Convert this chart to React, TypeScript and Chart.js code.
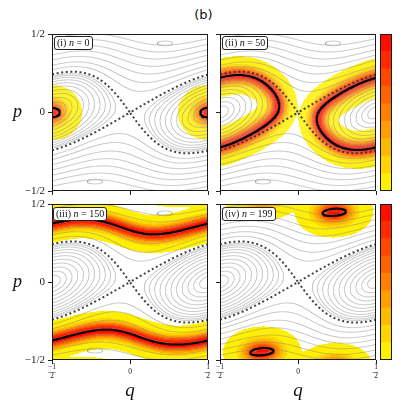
import React, { useEffect, useRef } from 'react';
import { Chart, registerables } from 'chart.js';

Chart.register(...registerables);

type Pt = [number, number];

// ================= values =================
const FIGURE_TITLE = '(b)';
const PANEL_TAGS = ['(i)', '(ii)', '(iii)', '(iv)'];
const PANEL_STEPS = [0, 50, 150, 199];
const AXIS_TICKS = [-0.5, 0, 0.5];
const Y_TICK_LABELS = ['−1/2', '0', '1/2'];
const X_TICK_LABELS = [['−1', '—', '2'], ['0'], ['1', '—', '2']];
const X_TITLE = 'q';
const Y_TITLE = 'p';

// filled distribution: 9 colour bands (low -> high), autumn_r
const LEVEL_COLORS = ['#ffef00', '#ffd400', '#ffb800', '#ff9c00', '#ff8000', '#ff6300', '#ff4700', '#ff2b00', '#ff0e00'];
const LOWEST_LEVEL = 0.003; // fraction of the panel maximum where the yellow band starts

// gray level curves of the classical phase portrait
const SEPARATRIX_PEAK_P = 0.26; // highest point of the dotted separatrix
const SEPARATRIX_SHEAR = 0.5; // tilt of the separatrix lobes
const LIBRATION_CROSSINGS_Q = [0.1, 0.135, 0.17, 0.205, 0.24, 0.275, 0.31, 0.345, 0.38, 0.415, 0.45]; // closed curves, crossing p = 0
const ROTATION_CROSSINGS_P = [0.272, 0.3, 0.333, 0.366, 0.4, 0.435, 0.47]; // open curves, crossing q = -1/2
const GRAY_ISLAND_Q = [0.224, -0.224];
const GRAY_ISLAND_P = [0.44, -0.44];
const GRAY_ISLAND_RQ = [0.05, 0.05];
const GRAY_ISLAND_RP = [0.015, 0.015];

// (i) n = 0 : initial loop and its spread
const START_Q = [0.5];
const START_P = [0];
const START_RQ = [0.05];
const START_RP = [0.03];
const START_SPREAD = [0.08, 0.072];

// (ii) n = 50 : loop tip on p = 0
const LOOP_TIP = [0.13, 0];
// (iii) n = 150 : lowest point of the upper curve
const BAND_DIP = [0.171, 0.306];
// (iv) n = 199 : two small loops
const FINAL_Q = [0.232, -0.232];
const FINAL_P = [0.447, -0.447];
const FINAL_RQ = [0.075, 0.075];
const FINAL_RP = [0.023, 0.023];
const FINAL_TILT = [0.08, 0.08];
const FINAL_SPREAD = [0.085, 0.062];

const CURVE_SPREAD = [0.05, 0.05];

// ================= model / geometry helpers =================
const K = (SEPARATRIX_PEAK_P * SEPARATRIX_PEAK_P) / 4;
function H(q: number, p: number) {
  return (p * p) / 2 + K * Math.cos(2 * Math.PI * (q - SEPARATRIX_SHEAR * p));
}

const GRID = 240;
const HEAT_N = 156;

function contour(v: Float64Array, N: number, L: number): Pt[][] {
  const M = N + 1;
  const pts = new Map<number, Pt>();
  const adj = new Map<number, number[]>();
  const segs: [number, number][] = [];
  const val = (i: number, j: number) => v[j * M + i];
  const hKey = (i: number, j: number) => (j * M + i) * 2;
  const vKey = (i: number, j: number) => (j * M + i) * 2 + 1;
  const point = (key: number): Pt => {
    const node = key >> 1;
    const i = node % M;
    const j = (node - i) / M;
    if ((key & 1) === 0) {
      const a = val(i, j), b = val(i + 1, j);
      const t = (L - a) / (b - a);
      return [-0.5 + (i + t) / N, -0.5 + j / N];
    }
    const a = val(i, j), b = val(i, j + 1);
    const t = (L - a) / (b - a);
    return [-0.5 + i / N, -0.5 + (j + t) / N];
  };
  const add = (k1: number, k2: number) => {
    if (!pts.has(k1)) pts.set(k1, point(k1));
    if (!pts.has(k2)) pts.set(k2, point(k2));
    const id = segs.length;
    segs.push([k1, k2]);
    if (!adj.has(k1)) adj.set(k1, []);
    if (!adj.has(k2)) adj.set(k2, []);
    adj.get(k1)!.push(id);
    adj.get(k2)!.push(id);
  };
  for (let j = 0; j < N; j++) {
    for (let i = 0; i < N; i++) {
      const v0 = val(i, j), v1 = val(i + 1, j), v2 = val(i + 1, j + 1), v3 = val(i, j + 1);
      const a0 = v0 > L, a1 = v1 > L, a2 = v2 > L, a3 = v3 > L;
      const e0 = hKey(i, j), e1 = vKey(i + 1, j), e2 = hKey(i, j + 1), e3 = vKey(i, j);
      const cross: number[] = [];
      if (a0 !== a1) cross.push(e0);
      if (a1 !== a2) cross.push(e1);
      if (a2 !== a3) cross.push(e2);
      if (a3 !== a0) cross.push(e3);
      if (cross.length === 2) add(cross[0], cross[1]);
      else if (cross.length === 4) {
        const ac = (v0 + v1 + v2 + v3) / 4 > L;
        if (a0 !== ac) add(e3, e0);
        if (a1 !== ac) add(e0, e1);
        if (a2 !== ac) add(e1, e2);
        if (a3 !== ac) add(e2, e3);
      }
    }
  }
  const used = new Uint8Array(segs.length);
  const lines: Pt[][] = [];
  const walk = (start: number) => {
    const line: Pt[] = [pts.get(start)!];
    let cur = start;
    for (;;) {
      const list = adj.get(cur)!;
      let next = -1;
      for (const id of list) if (!used[id]) { next = id; break; }
      if (next < 0) break;
      used[next] = 1;
      const [a, b] = segs[next];
      cur = a === cur ? b : a;
      line.push(pts.get(cur)!);
    }
    if (line.length > 1) lines.push(line);
  };
  adj.forEach((list, key) => { if (list.length === 1) walk(key); });
  adj.forEach((list, key) => { if (list.some((id) => !used[id])) walk(key); });
  return lines;
}

function ellipse(qc: number, pc: number, rq: number, rp: number, tilt: number, n = 160): Pt[] {
  const out: Pt[] = [];
  for (let k = 0; k <= n; k++) {
    const t = (2 * Math.PI * k) / n;
    const a = rq * Math.cos(t), b = rp * Math.sin(t);
    out.push([qc + a * Math.cos(tilt) - b * Math.sin(tilt), pc + a * Math.sin(tilt) + b * Math.cos(tilt)]);
  }
  return out;
}

function wrapCopies(lines: Pt[][]): Pt[][] {
  const out: Pt[][] = [];
  for (const l of lines) {
    for (const sq of [-1, 0, 1]) for (const sp of [-1, 0, 1]) {
      const c = l.map(([x, y]) => [x + sq, y + sp] as Pt);
      const inside = c.some(([x, y]) => x >= -0.52 && x <= 0.52 && y >= -0.52 && y <= 0.52);
      if (inside) out.push(c);
    }
  }
  return out;
}

function resample(lines: Pt[][], step: number): Pt[] {
  const out: Pt[] = [];
  for (const l of lines) {
    if (l.length < 2) continue;
    out.push(l[0]);
    let acc = 0;
    for (let k = 1; k < l.length; k++) {
      const [x0, y0] = l[k - 1], [x1, y1] = l[k];
      const len = Math.hypot(x1 - x0, y1 - y0);
      if (len === 0) continue;
      let s = step - acc;
      while (s <= len) {
        const t = s / len;
        out.push([x0 + t * (x1 - x0), y0 + t * (y1 - y0)]);
        s += step;
      }
      acc = len - (s - step);
    }
  }
  return out;
}

function density(src: Pt[], sq: number, sp: number, N: number, w?: number[]): Float64Array {
  const d = new Float64Array(N * N);
  const Rq = Math.ceil(3.6 * sq * N), Rp = Math.ceil(3.6 * sp * N);
  src.forEach(([qs, ps], k) => {
    const wk = w ? w[k] : 1;
    const ic = (qs + 0.5) * N - 0.5, jc = (ps + 0.5) * N - 0.5;
    for (let j = Math.floor(jc) - Rp; j <= Math.ceil(jc) + Rp; j++) {
      const dp = (j - jc) / N;
      const ep = (dp * dp) / (sp * sp);
      if (ep > 13) continue;
      const jj = ((j % N) + N) % N;
      for (let i = Math.floor(ic) - Rq; i <= Math.ceil(ic) + Rq; i++) {
        const dq = (i - ic) / N;
        const e = ep + (dq * dq) / (sq * sq);
        if (e > 13) continue;
        d[jj * N + (((i % N) + N) % N)] += wk * Math.exp(-e);
      }
    }
  });
  return d;
}

// density along a curve with an even ridge (each source weighted by the inverse local overlap)
function ridgeDensity(src: Pt[], sq: number, sp: number, N: number): Float64Array {
  const d0 = density(src, sq, sp, N);
  const w = src.map(([q, p]) => {
    const i = Math.min(N - 1, Math.max(0, Math.floor((q + 0.5) * N)));
    const j = Math.min(N - 1, Math.max(0, Math.floor((p + 0.5) * N)));
    return 1 / Math.max(1e-9, d0[j * N + i]);
  });
  return density(src, sq, sp, N, w);
}

function bands(d: Float64Array, N: number) {
  let mx = 0;
  for (let k = 0; k < d.length; k++) if (d[k] > mx) mx = d[k];
  const out: { x: number; y: number }[][] = LEVEL_COLORS.map(() => []);
  for (let j = 0; j < N; j++) for (let i = 0; i < N; i++) {
    const v = d[j * N + i] / mx;
    if (v < LOWEST_LEVEL) continue;
    const b = Math.min(LEVEL_COLORS.length - 1, Math.floor(v * LEVEL_COLORS.length));
    out[b].push({ x: -0.5 + (i + 0.5) / N, y: -0.5 + (j + 0.5) / N });
  }
  return out;
}

let MODEL: any = null;
function buildModel() {
  if (MODEL) return MODEL;
  const M = GRID + 1;
  const v = new Float64Array(M * M);
  for (let j = 0; j < M; j++) for (let i = 0; i < M; i++) v[j * M + i] = H(-0.5 + i / GRID, -0.5 + j / GRID);

  const gray: Pt[][] = [];
  LIBRATION_CROSSINGS_Q.forEach((q) => gray.push(...contour(v, GRID, H(q, 0))));
  ROTATION_CROSSINGS_P.forEach((p) => gray.push(...contour(v, GRID, H(-0.5, p))));
  GRAY_ISLAND_Q.forEach((q, k) => gray.push(ellipse(q, GRAY_ISLAND_P[k], GRAY_ISLAND_RQ[k], GRAY_ISLAND_RP[k], 0)));
  const sep = contour(v, GRID, H(0, 0) * (1 - 1e-9));

  const startLoops = START_Q.map((q, k) => ellipse(q, START_P[k], START_RQ[k], START_RP[k], 0));
  const loop50 = contour(v, GRID, H(LOOP_TIP[0], LOOP_TIP[1]));
  const band150 = contour(v, GRID, H(BAND_DIP[0], BAND_DIP[1]));
  const finalLoops = FINAL_Q.map((q, k) => ellipse(q, FINAL_P[k], FINAL_RQ[k], FINAL_RP[k], FINAL_TILT[k]));

  const black = [wrapCopies(startLoops), loop50, band150, wrapCopies(finalLoops)];
  const heat = [
    bands(density(START_Q.map((q, k) => [q, START_P[k]] as Pt), START_SPREAD[0], START_SPREAD[1], HEAT_N), HEAT_N),
    bands(ridgeDensity(resample(loop50, 0.004), CURVE_SPREAD[0], CURVE_SPREAD[1], HEAT_N), HEAT_N),
    bands(ridgeDensity(resample(band150, 0.004), CURVE_SPREAD[0], CURVE_SPREAD[1], HEAT_N), HEAT_N),
    bands(density(resample(finalLoops, 0.004), FINAL_SPREAD[0], FINAL_SPREAD[1], HEAT_N), HEAT_N),
  ];
  MODEL = { gray, sep, black, heat };
  return MODEL;
}

function toData(lines: Pt[][]) {
  const out: { x: number; y: number }[] = [];
  lines.forEach((l, k) => {
    if (k) out.push({ x: NaN, y: NaN });
    l.forEach(([x, y]) => out.push({ x, y }));
  });
  return out;
}

const framePlugin = {
  id: 'frame',
  afterDatasetsDraw(chart: any) {
    const { ctx, chartArea: a } = chart;
    ctx.save();
    ctx.strokeStyle = '#1a1a1a';
    ctx.lineWidth = 1;
    ctx.strokeRect(a.left + 0.5, a.top + 0.5, a.right - a.left - 1, a.bottom - a.top - 1);
    ctx.restore();
  },
};

const SERIF = '"Liberation Serif", "DejaVu Serif", serif';

function fixedFit(size: number, horizontal: boolean) {
  return (s: any) => {
    if (horizontal) s.height = size; else s.width = size;
    s.paddingTop = 0;
    s.paddingBottom = 0;
    s.paddingLeft = 0;
    s.paddingRight = 0;
  };
}

function panelConfig(k: number, model: any): any {
  const leftCol = k % 2 === 0;
  const bottomRow = k >= 2;
  const datasets: any[] = [
    { label: 'orbit', data: toData(model.black[k]), showLine: true, borderColor: '#000', borderWidth: 2, pointRadius: 0, pointHitRadius: 0, spanGaps: false, order: 0 },
    { label: 'separatrix', data: toData(model.sep), showLine: true, borderColor: 'rgba(55,55,55,0.95)', borderWidth: 2, borderDash: [2, 2.6], pointRadius: 0, pointHitRadius: 0, spanGaps: false, order: 1 },
    { label: 'level curves', data: toData(model.gray), showLine: true, borderColor: 'rgba(140,140,140,0.47)', borderWidth: 1, pointRadius: 0, pointHitRadius: 0, spanGaps: false, order: 2 },
  ];
  model.heat[k].forEach((pts: any[], b: number) =>
    datasets.push({ label: 'band ' + (b + 1), data: pts, showLine: false, pointStyle: 'rect', pointRadius: 0.8, pointHoverRadius: 0.8, pointBorderWidth: 0, borderWidth: 0, backgroundColor: LEVEL_COLORS[b], pointBackgroundColor: LEVEL_COLORS[b], order: 3 })
  );
  return {
    type: 'scatter',
    data: { datasets },
    plugins: [framePlugin],
    options: {
      responsive: false,
      animation: false,
      devicePixelRatio: 1,
      events: [],
      layout: { padding: { left: 0, right: 2, top: 8, bottom: 0 } },
      plugins: { legend: { display: false }, tooltip: { enabled: false } },
      scales: {
        x: {
          type: 'linear', min: -0.5, max: 0.5,
          afterBuildTicks: (s: any) => { s.ticks = AXIS_TICKS.map((value) => ({ value })); },
          afterFit: fixedFit(bottomRow ? 47 : 8, true),
          border: { display: false },
          grid: { drawOnChartArea: false, drawTicks: true, tickLength: 4, color: '#222', lineWidth: 1 },
          ticks: {
            autoSkip: false, maxRotation: 0, padding: 3.5, crossAlign: 'center', color: '#222',
            font: { family: SERIF, size: 7.5, lineHeight: 0.55 },
            callback: (_v: any, i: number) => (bottomRow ? X_TICK_LABELS[i] : ''),
          },
          title: { display: bottomRow, text: X_TITLE, color: '#111', font: { family: SERIF, size: 19, style: 'italic' }, padding: { top: 0, bottom: 5 } },
        },
        y: {
          type: 'linear', min: -0.5, max: 0.5,
          afterBuildTicks: (s: any) => { s.ticks = AXIS_TICKS.map((value) => ({ value })); },
          afterFit: fixedFit(leftCol ? 52 : 12, false),
          border: { display: false },
          grid: { drawOnChartArea: false, drawTicks: true, tickLength: 4, color: '#222', lineWidth: 1 },
          ticks: {
            autoSkip: false, padding: 3, color: '#222',
            font: { family: SERIF, size: 11 },
            callback: (_v: any, i: number) => (leftCol ? Y_TICK_LABELS[i] : ''),
          },
        },
      },
    },
  };
}

function colorbarConfig(): any {
  return {
    type: 'bar',
    data: {
      labels: [''],
      datasets: LEVEL_COLORS.map((c, b) => ({ label: 'level ' + (b + 1), data: [1], backgroundColor: c, borderWidth: 0, barPercentage: 1, categoryPercentage: 1, stack: 'cb' })),
    },
    plugins: [framePlugin],
    options: {
      responsive: false, animation: false, devicePixelRatio: 1, events: [],
      layout: { padding: 1 },
      plugins: { legend: { display: false }, tooltip: { enabled: false } },
      scales: {
        x: { display: false, stacked: true },
        y: { display: false, stacked: true, min: 0, max: LEVEL_COLORS.length },
      },
    },
  };
}

const PANEL_POS = [
  { left: 0, top: 26, w: 210, h: 173 },
  { left: 208, top: 26, w: 170, h: 173 },
  { left: 0, top: 196, w: 210, h: 211 },
  { left: 208, top: 196, w: 170, h: 211 },
];
const CB_POS = [
  { left: 379, top: 33, w: 14, h: 159 },
  { left: 379, top: 203, w: 14, h: 158 },
];
const TAG_POS = [
  { left: 54, top: 36 },
  { left: 222, top: 36 },
  { left: 53, top: 207 },
  { left: 222, top: 207 },
];

export default function App() {
  const panelRefs = [useRef<HTMLCanvasElement>(null), useRef<HTMLCanvasElement>(null), useRef<HTMLCanvasElement>(null), useRef<HTMLCanvasElement>(null)];
  const cbRefs = [useRef<HTMLCanvasElement>(null), useRef<HTMLCanvasElement>(null)];

  useEffect(() => {
    const model = buildModel();
    const charts: Chart[] = [];
    panelRefs.forEach((r, k) => { if (r.current) charts.push(new Chart(r.current, panelConfig(k, model))); });
    cbRefs.forEach((r) => { if (r.current) charts.push(new Chart(r.current, colorbarConfig())); });
    return () => charts.forEach((c) => c.destroy());
  }, []);

  return (
    <div style={{ position: 'fixed', left: 0, top: 0, width: 407, height: 407, background: '#fff', overflow: 'hidden' }}>
      <div style={{ position: 'absolute', left: 0, top: 7, width: 407, textAlign: 'center', font: '13px "DejaVu Sans", sans-serif', lineHeight: '16px', color: '#111' }}>{FIGURE_TITLE}</div>
      {PANEL_POS.map((p, k) => (
        <canvas key={'p' + k} ref={panelRefs[k]} width={p.w} height={p.h} style={{ position: 'absolute', left: p.left, top: p.top, width: p.w, height: p.h }} />
      ))}
      {CB_POS.map((p, k) => (
        <canvas key={'c' + k} ref={cbRefs[k]} width={p.w} height={p.h} style={{ position: 'absolute', left: p.left, top: p.top, width: p.w, height: p.h }} />
      ))}
      {[102, 272].map((t, k) => (
        <div key={'y' + k} style={{ position: 'absolute', left: 13, top: t, font: 'italic 18px ' + SERIF, lineHeight: '18px', color: '#111' }}>{Y_TITLE}</div>
      ))}
      {TAG_POS.map((p, k) => (
        <div key={'t' + k} style={{ position: 'absolute', left: p.left, top: p.top, border: '1px solid #222', borderRadius: 3, background: '#fff', padding: '0 2px', font: '10px ' + SERIF, lineHeight: '12px', color: '#111', whiteSpace: 'nowrap' }}>
          {PANEL_TAGS[k]} <i>n</i> = {PANEL_STEPS[k]}
        </div>
      ))}
    </div>
  );
}
